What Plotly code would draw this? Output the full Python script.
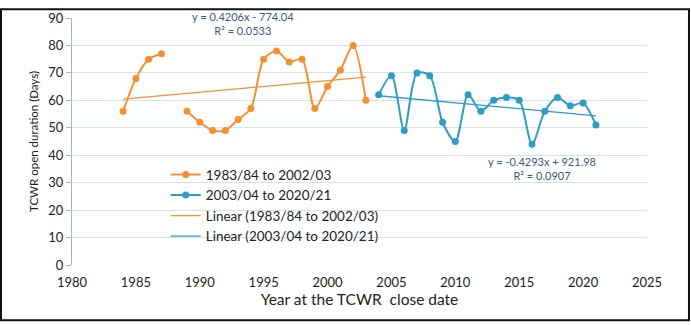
import plotly.graph_objects as go

years_a = [1984, 1985, 1986, 1987, 1988, 1989, 1990, 1991, 1992, 1993, 1994,
           1995, 1996, 1997, 1998, 1999, 2000, 2001, 2002, 2003]
vals_a = [56, 68, 75, 77, None, 56, 52, 49, 49, 53, 57,
          75, 78, 74, 75, 57, 65, 71, 80, 60]

years_b = [2004, 2005, 2006, 2007, 2008, 2009, 2010, 2011, 2012, 2013, 2014,
           2015, 2016, 2017, 2018, 2019, 2020, 2021]
vals_b = [62, 69, 49, 70, 69, 52, 45, 62, 56, 60, 61,
          60, 44, 56, 61, 58, 59, 51]

slope_a, icpt_a = 0.4206, -774.04
slope_b, icpt_b = -0.4293, 921.98
r2_a, r2_b = 0.0533, 0.0907

name_a = "1983/84 to 2002/03"
name_b = "2003/04 to 2020/21"

orange = "#F39033"
blue = "#2E9DC4"
eqcol = "#3E5878"
FONT = "Lato"

trend_xa = [years_a[0], years_a[-1]]
trend_ya = [slope_a * x + icpt_a for x in trend_xa]
trend_xb = [years_b[0], years_b[-1]]
trend_yb = [slope_b * x + icpt_b for x in trend_xb]

fig = go.Figure()
fig.add_trace(go.Scatter(x=years_a, y=vals_a, mode="lines+markers", name=name_a,
                         line=dict(color=orange, width=2, shape="spline", smoothing=0.8),
                         marker=dict(color=orange, size=7), connectgaps=False))
fig.add_trace(go.Scatter(x=years_b, y=vals_b, mode="lines+markers", name=name_b,
                         line=dict(color=blue, width=2, shape="spline", smoothing=0.8),
                         marker=dict(color=blue, size=7)))
fig.add_trace(go.Scatter(x=trend_xa, y=trend_ya, mode="lines", name="Linear (" + name_a + ")",
                         line=dict(color=orange, width=1.3)))
fig.add_trace(go.Scatter(x=trend_xb, y=trend_yb, mode="lines", name="Linear (" + name_b + ")",
                         line=dict(color=blue, width=1.3)))

fig.add_annotation(x=1993.4, y=87.9,
                   text="y = %.4fx - %.2f<br>R² = %.4f" % (slope_a, -icpt_a, r2_a),
                   showarrow=False, align="center",
                   font=dict(size=11, color=eqcol, family=FONT))
fig.add_annotation(x=2016.8, y=35.3,
                   text="y = %.4fx + %.2f<br>R² = %.4f" % (slope_b, icpt_b, r2_b),
                   showarrow=False, align="center",
                   font=dict(size=11, color=eqcol, family=FONT))

# outer frame
fig.add_shape(type="rect", xref="paper", yref="paper",
              x0=-0.1235, x1=1.073, y0=-0.2235, y1=1.035,
              line=dict(color="#111111", width=2), layer="above")

fig.update_layout(
    width=691, height=325,
    margin=dict(l=72, r=44, t=10, b=60),
    paper_bgcolor="white", plot_bgcolor="white",
    font=dict(family=FONT, color="#222222"),
    showlegend=True,
    legend=dict(x=0.163, y=0.428, xanchor="left", yanchor="top",
                bgcolor="rgba(0,0,0,0)", font=dict(size=13.5, color="#222222", family=FONT),
                tracegroupgap=0),
    xaxis=dict(range=[1980, 2025], dtick=5, tick0=1980, showgrid=False,
               zeroline=False, showline=False,
               ticks="outside", ticklen=5, tickcolor="rgba(0,0,0,0)",
               tickfont=dict(size=13, color="#222222"),
               title=dict(text="Year at the TCWR  close date",
                          font=dict(size=15.5, color="#222222"), standoff=4)),
    yaxis=dict(range=[0, 90], dtick=10, showgrid=True, gridcolor="#D6E0EE",
               zeroline=False, showline=True, linecolor="#9DB5D8", linewidth=1,
               ticks="outside", ticklen=5, tickcolor="#9DB5D8",
               tickfont=dict(size=13, color="#222222"),
               title=dict(text="TCWR open duration (Days)",
                          font=dict(size=11.5, color="#222222"), standoff=7)),
)

fig.write_html("out.html")
